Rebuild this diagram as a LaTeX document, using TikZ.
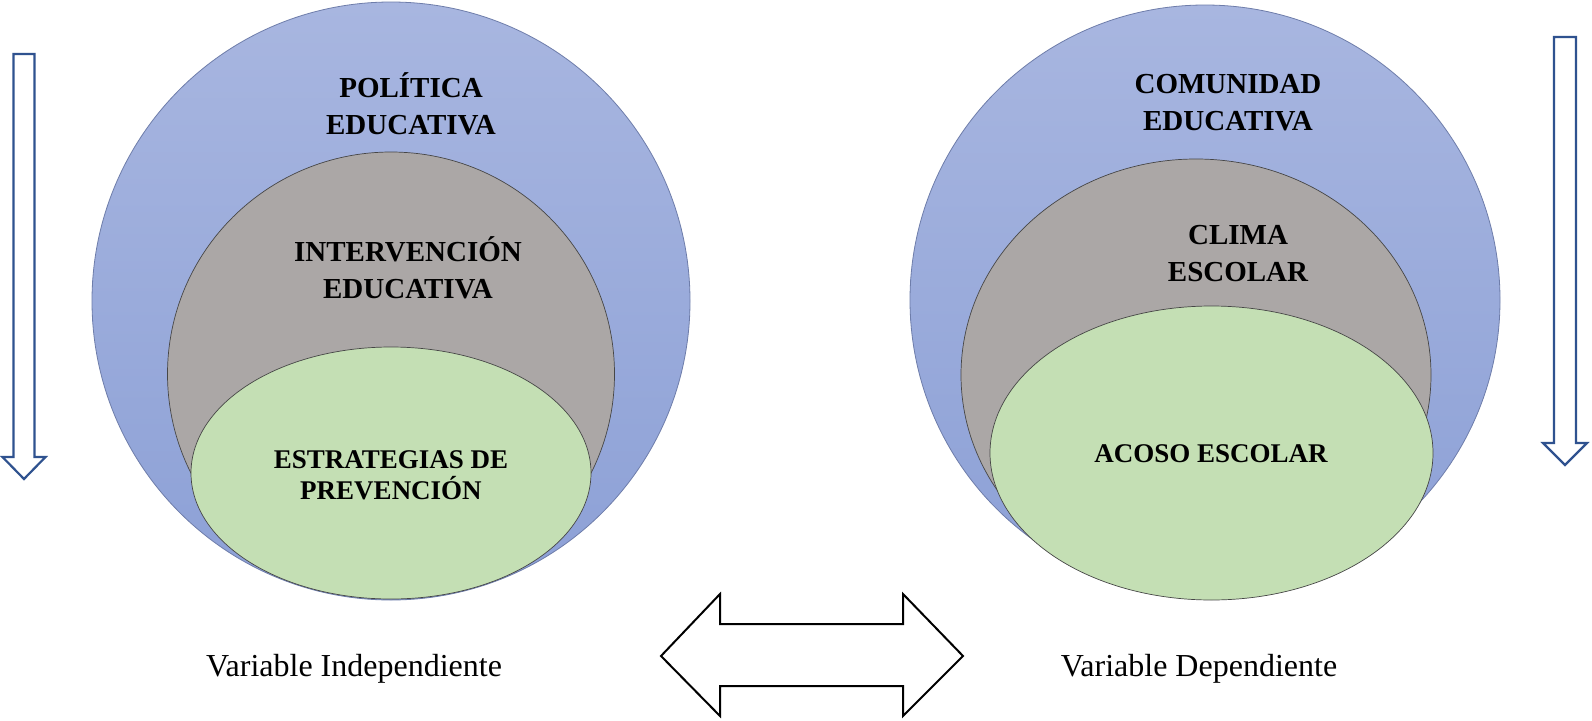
\documentclass[tikz,border=0pt]{standalone}
\usepackage{fontspec}
\setmainfont{Liberation Serif}
\usetikzlibrary{shapes.geometric}
\definecolor{bluetop}{RGB}{168,182,224}
\definecolor{bluebot}{RGB}{140,160,214}
\definecolor{blueedge}{RGB}{110,125,170}
\definecolor{grayfill}{RGB}{171,167,166}
\definecolor{greenfill}{RGB}{196,223,180}
\definecolor{shapeedge}{RGB}{70,70,70}
\definecolor{arrowblue}{RGB}{47,82,143}
\tikzset{
  outerc/.style={ellipse, inner sep=0pt, top color=bluetop, bottom color=bluebot, draw=blueedge, line width=0.8pt},
  grayc/.style={ellipse, inner sep=0pt, fill=grayfill, draw=shapeedge, line width=0.7pt},
  greenc/.style={ellipse, inner sep=0pt, fill=greenfill, draw=shapeedge, line width=0.7pt},
  bigtxt/.style={font=\fontsize{29}{37}\selectfont\bfseries, inner sep=0pt, anchor=base},
  smalltxt/.style={font=\fontsize{27}{28}\selectfont\bfseries, inner sep=0pt, anchor=base},
  labeltxt/.style={font=\fontsize{32}{38}\selectfont, inner sep=0pt, anchor=base},
  downarrow/.style={draw=arrowblue, line width=2.2pt, fill=white, line join=miter},
  bothways/.style={draw=black, line width=2pt, fill=white, line join=miter}
}
\newcommand{\twolines}[2]{\begin{tabular}[t]{@{}c@{}}#1\\#2\end{tabular}}
\begin{document}
\begin{tikzpicture}[x=1pt,y=-1pt]
\useasboundingbox (0,0) rectangle (1592,720);
\fill[white] (0,0) rectangle (1592,720);

% left group
\node[outerc, minimum width=598pt, minimum height=598pt] (lout) at (391,301) {};
\node[grayc, minimum width=447pt, minimum height=444pt] (lmid) at (391,374) {};
\node[greenc, minimum width=400pt, minimum height=252pt] (lin) at (391,473) {};
\node[bigtxt] (tpol) at (411,97) {\twolines{POLÍTICA}{EDUCATIVA}};
\node[bigtxt] (tint) at (408,261.6) {\twolines{INTERVENCIÓN}{EDUCATIVA}};
\node[smalltxt] (test) at (391,468) {\twolines{ESTRATEGIAS DE}{PREVENCIÓN}};

% right group
\node[outerc, minimum width=590pt, minimum height=590pt] (rout) at (1205,300) {};
\node[grayc, minimum width=470pt, minimum height=432pt] (rmid) at (1196,375) {};
\node[greenc, minimum width=443pt, minimum height=294pt] (rin) at (1211.5,453) {};
\node[bigtxt] (tcom) at (1228,93.2) {\twolines{COMUNIDAD}{EDUCATIVA}};
\node[bigtxt] (tcli) at (1238,244.6) {\twolines{CLIMA}{ESCOLAR}};
\node[smalltxt] (taco) at (1211,462.5) {ACOSO ESCOLAR};

% labels
\node[labeltxt] (vi) at (354,676.7) {Variable Independiente};
\node[labeltxt] (vd) at (1199,676.7) {Variable Dependiente};

% vertical arrows
\draw[downarrow] (13.5,54) -- (34.5,54) -- (34.5,457) -- (45.5,457) -- (24,479) -- (2.5,457) -- (13.5,457) -- cycle;
\draw[downarrow] (1554,37) -- (1576,37) -- (1576,443) -- (1587,443) -- (1565,465) -- (1543,443) -- (1554,443) -- cycle;

% double arrow
\draw[bothways] (661,656) -- (720,594) -- (720,624) -- (903,624) -- (903,594) -- (963,656) -- (903,716) -- (903,686) -- (720,686) -- (720,716) -- cycle;
\end{tikzpicture}
\end{document}
